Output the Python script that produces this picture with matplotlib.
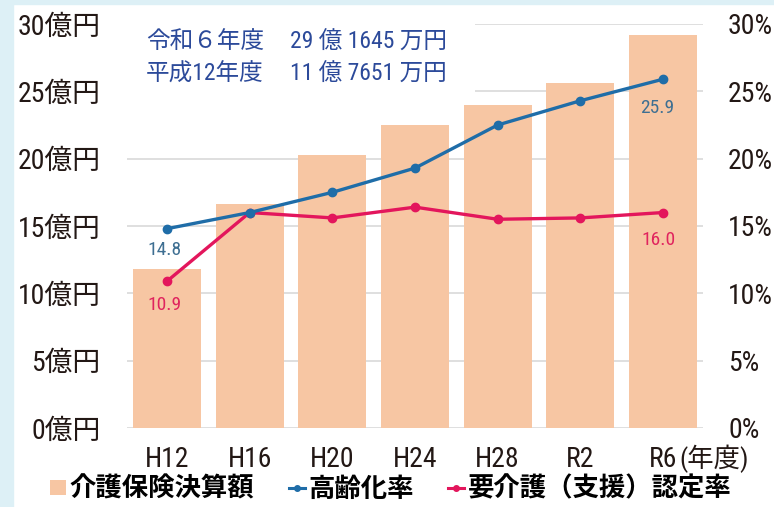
import matplotlib
matplotlib.use("Agg")
import matplotlib.pyplot as plt
from matplotlib import font_manager
from matplotlib.patches import Rectangle, Patch
from matplotlib.lines import Line2D

years = ["H12", "H16", "H20", "H24", "H28", "R2", "R6"]
cost = [11.77, 16.6, 20.3, 22.5, 24.0, 25.6, 29.16]      # 億円
aging = [14.8, 16.0, 17.5, 19.3, 22.5, 24.3, 25.9]       # %
care = [10.9, 16.0, 15.6, 16.4, 15.5, 15.6, 16.0]        # %
left_ticks = [0, 5, 10, 15, 20, 25, 30]
left_labels = ["0億円", "5億円", "10億円", "15億円", "20億円", "25億円", "30億円"]
right_labels = ["0%", "5%", "10%", "15%", "20%", "25%", "30%"]
note_left = ["令和６年度", "平成12年度"]
note_right = ["29 億 1645 万円", "11 億 7651 万円"]
legend_names = ["介護保険決算額", "高齢化率", "要介護（支援）認定率"]

names = {f.name for f in font_manager.fontManager.ttflist}
narrow = "Liberation Sans"
for cand in ["Liberation Sans Narrow", "Roboto Condensed", "Open Sans Condensed"]:
    if cand in names:
        narrow = cand
        break
CJK = "Noto Sans CJK JP"
FAM = [narrow, CJK, "DejaVu Sans"]
plt.rcParams["font.family"] = FAM

W, H = 774, 507
fig = plt.figure(figsize=(W / 100, H / 100), dpi=100)
fig.patch.set_facecolor("white")
bg = "#DDF0F6"
fig.patches.append(Rectangle((0, 0), 13 / W, 1, transform=fig.transFigure, color=bg, zorder=0))
fig.patches.append(Rectangle((0, 1 - 4 / H), 1, 4 / H, transform=fig.transFigure, color=bg, zorder=0))

ax_l, ax_r = 127 / W, 703 / W
ax_b, ax_t = (H - 428) / H, (H - 24) / H
ax = fig.add_axes([ax_l, ax_b, ax_r - ax_l, ax_t - ax_b])
ax2 = ax.twinx()
ax.set_zorder(1)
ax2.set_zorder(2)
ax.patch.set_visible(False)
ax2.patch.set_visible(False)

x = list(range(len(years)))
ax.set_axisbelow(True)
ax.yaxis.grid(True, color="#D9D9D9", linewidth=1.2)
ax.bar(x, cost, width=0.82, color="#F7C6A3", zorder=2)

ax.set_ylim(0, 30)
ax2.set_ylim(0, 30)
ax.set_xlim(-0.484, 6.484)
ax.set_yticks(left_ticks)
ax.set_yticklabels(left_labels)
ax2.set_yticks(left_ticks)
ax2.set_yticklabels(right_labels)
ax.set_xticks(x)
ax.set_xticklabels(years)
tc = "#231815"
ax.tick_params(axis="y", length=0, pad=19, labelsize=20, labelcolor=tc)
ax2.tick_params(axis="y", length=0, pad=18, labelsize=20, labelcolor=tc)
ax.tick_params(axis="x", length=0, pad=13, labelsize=20, labelcolor=tc)
for a in (ax, ax2):
    for s in a.spines.values():
        s.set_visible(False)

# white box behind note text hiding gridlines
ax.add_patch(Rectangle((-0.484, 24.5), (475 - 127) / 82.7, 6, facecolor="white",
                       edgecolor="none", zorder=1.5))

blue = "#1F6DA8"
pink = "#E3165C"
ax2.plot(x, aging, color=blue, linewidth=2.4, marker="o", markersize=6, zorder=5)
ax2.plot(x, care, color=pink, linewidth=2.4, marker="o", markersize=6, zorder=4)

lab_blue = "#3E6F92"
lab_pink = "#E0245E"
ax2.annotate(f"{aging[0]:.1f}", (0, aging[0]), xytext=(-2, -15), textcoords="offset points",
             ha="center", va="center", fontsize=14, color=lab_blue)
ax2.annotate(f"{care[0]:.1f}", (0, care[0]), xytext=(-2, -17), textcoords="offset points",
             ha="center", va="center", fontsize=14, color=lab_pink)
ax2.annotate(f"{aging[-1]:.1f}", (6, aging[-1]), xytext=(-4, -21), textcoords="offset points",
             ha="center", va="center", fontsize=14, color=lab_blue)
ax2.annotate(f"{care[-1]:.1f}", (6, care[-1]), xytext=(-3, -20), textcoords="offset points",
             ha="center", va="center", fontsize=14, color=lab_pink)

note_c = "#2C4A9A"
for i, (a, b) in enumerate(zip(note_left, note_right)):
    yy = 1 - (42 + 32 * i) / H
    fig.text(146 / W, yy, a, fontsize=17, color=note_c, ha="left", va="center", zorder=10)
    fig.text(290 / W, yy, b, fontsize=17, color=note_c, ha="left", va="center", zorder=10)

fig.text(679 / W, 1 - 459 / H, "(年度)", fontsize=19, color=tc, ha="left", va="center")

handles = [
    Patch(facecolor="#F7C6A3", edgecolor="none"),
    Line2D([0], [0], color=blue, linewidth=2.2, marker="o", markersize=4),
    Line2D([0], [0], color=pink, linewidth=2.2, marker="o", markersize=4),
]
fig.legend(handles, legend_names, loc="center left", bbox_to_anchor=(50 / W, 1 - 489 / H),
           ncol=3, frameon=False, handlelength=0.6, handleheight=0.5, handletextpad=0.15,
           columnspacing=1.3, borderaxespad=0, borderpad=0,
           prop={"family": [CJK], "weight": "bold", "size": 19})

fig.savefig("out.png", dpi=100, facecolor=fig.get_facecolor())
